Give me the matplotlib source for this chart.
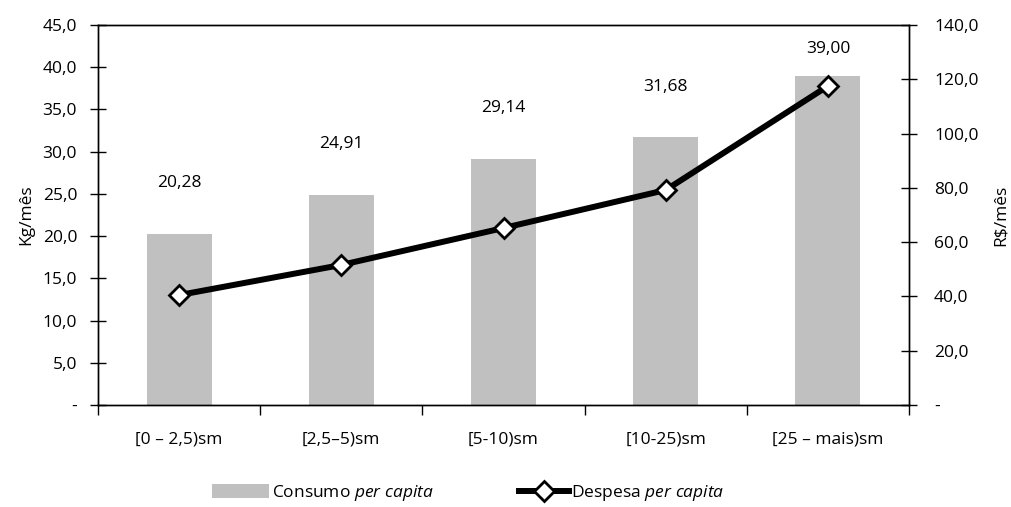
import matplotlib
matplotlib.use("Agg")
import matplotlib.pyplot as plt
from matplotlib.patches import Patch
from matplotlib.lines import Line2D
from matplotlib.ticker import FuncFormatter, MultipleLocator
import numpy as np

plt.rcParams['font.family'] = ['Open Sans', 'DejaVu Sans']
plt.rcParams['mathtext.fontset'] = 'custom'
plt.rcParams['mathtext.it'] = 'Open Sans:italic'
plt.rcParams['mathtext.rm'] = 'Open Sans'

# data
categories = ["[0 \u2013 2,5)sm", "[2,5\u20135)sm", "[5-10)sm", "[10-25)sm", "[25 \u2013 mais)sm"]
consumo = [20.28, 24.91, 29.14, 31.68, 39.00]
despesa = [40.5, 51.6, 65.2, 79.2, 117.5]

FS = 12.5

def br(v, dec):
    return f"{v:.{dec}f}".replace(".", ",")

fig = plt.figure(figsize=(10.11, 5.07), dpi=100)
ax = fig.add_axes([98/1011, 1-405/507, (909-98)/1011, 380/507])
ax2 = ax.twinx()

x = np.arange(len(categories))
ax.bar(x, consumo, width=0.4, color="#c0c0c0", zorder=1)
for xi, v in zip(x, consumo):
    ax.text(xi, min(v + 6.0, 42.2), br(v, 2), ha="center", va="center", fontsize=FS)

ax2.plot(x, despesa, color="black", lw=4.3, marker="D", ms=10,
         mfc="white", mec="black", mew=2, zorder=3)

ax.set_xlim(-0.5, len(categories) - 0.5)
ax.set_ylim(0, 45)
ax2.set_ylim(0, 140)
ax.yaxis.set_major_locator(MultipleLocator(5))
ax2.yaxis.set_major_locator(MultipleLocator(20))
ax.yaxis.set_major_formatter(FuncFormatter(lambda v, p: "-" if v == 0 else br(v, 1)))
ax2.yaxis.set_major_formatter(FuncFormatter(lambda v, p: "-" if v == 0 else br(v, 1)))

ax.set_xticks(x)
ax.set_xticklabels(categories, fontsize=FS)
ax.set_xticks(np.arange(-0.5, len(categories)), minor=True)
ax.tick_params(axis="x", which="major", length=0, pad=19)
ax.tick_params(axis="x", which="minor", length=7, direction="out", width=1)
ax.tick_params(axis="y", direction="inout", length=12, width=1, labelsize=FS, pad=9)
ax2.tick_params(axis="y", direction="inout", length=12, width=1, labelsize=FS, pad=12)

for a in (ax, ax2):
    for s in a.spines.values():
        s.set_linewidth(1)
        s.set_color("black")

ax.set_ylabel("Kg/m\u00eas", fontsize=FS, labelpad=6)
ax2.set_ylabel("R\\$/m\u00eas", fontsize=FS, labelpad=10)

h1 = Patch(facecolor="#c0c0c0", edgecolor="none")
h2 = Line2D([], [], color="black", lw=4.3, marker="D", ms=10, mfc="white", mec="black", mew=2)
fig.legend([h1], [r"Consumo $\it{per\ capita}$"], loc="center left",
           bbox_to_anchor=(196/1011, 1-493/507), frameon=False, fontsize=FS,
           handlelength=3.3, handleheight=0.8, handletextpad=0.2)
fig.legend([h2], [r"Despesa $\it{per\ capita}$"], loc="center left",
           bbox_to_anchor=(503/1011, 1-493/507), frameon=False, fontsize=FS,
           handlelength=2.9, handletextpad=0.1)

fig.savefig("out.png", dpi=100)
